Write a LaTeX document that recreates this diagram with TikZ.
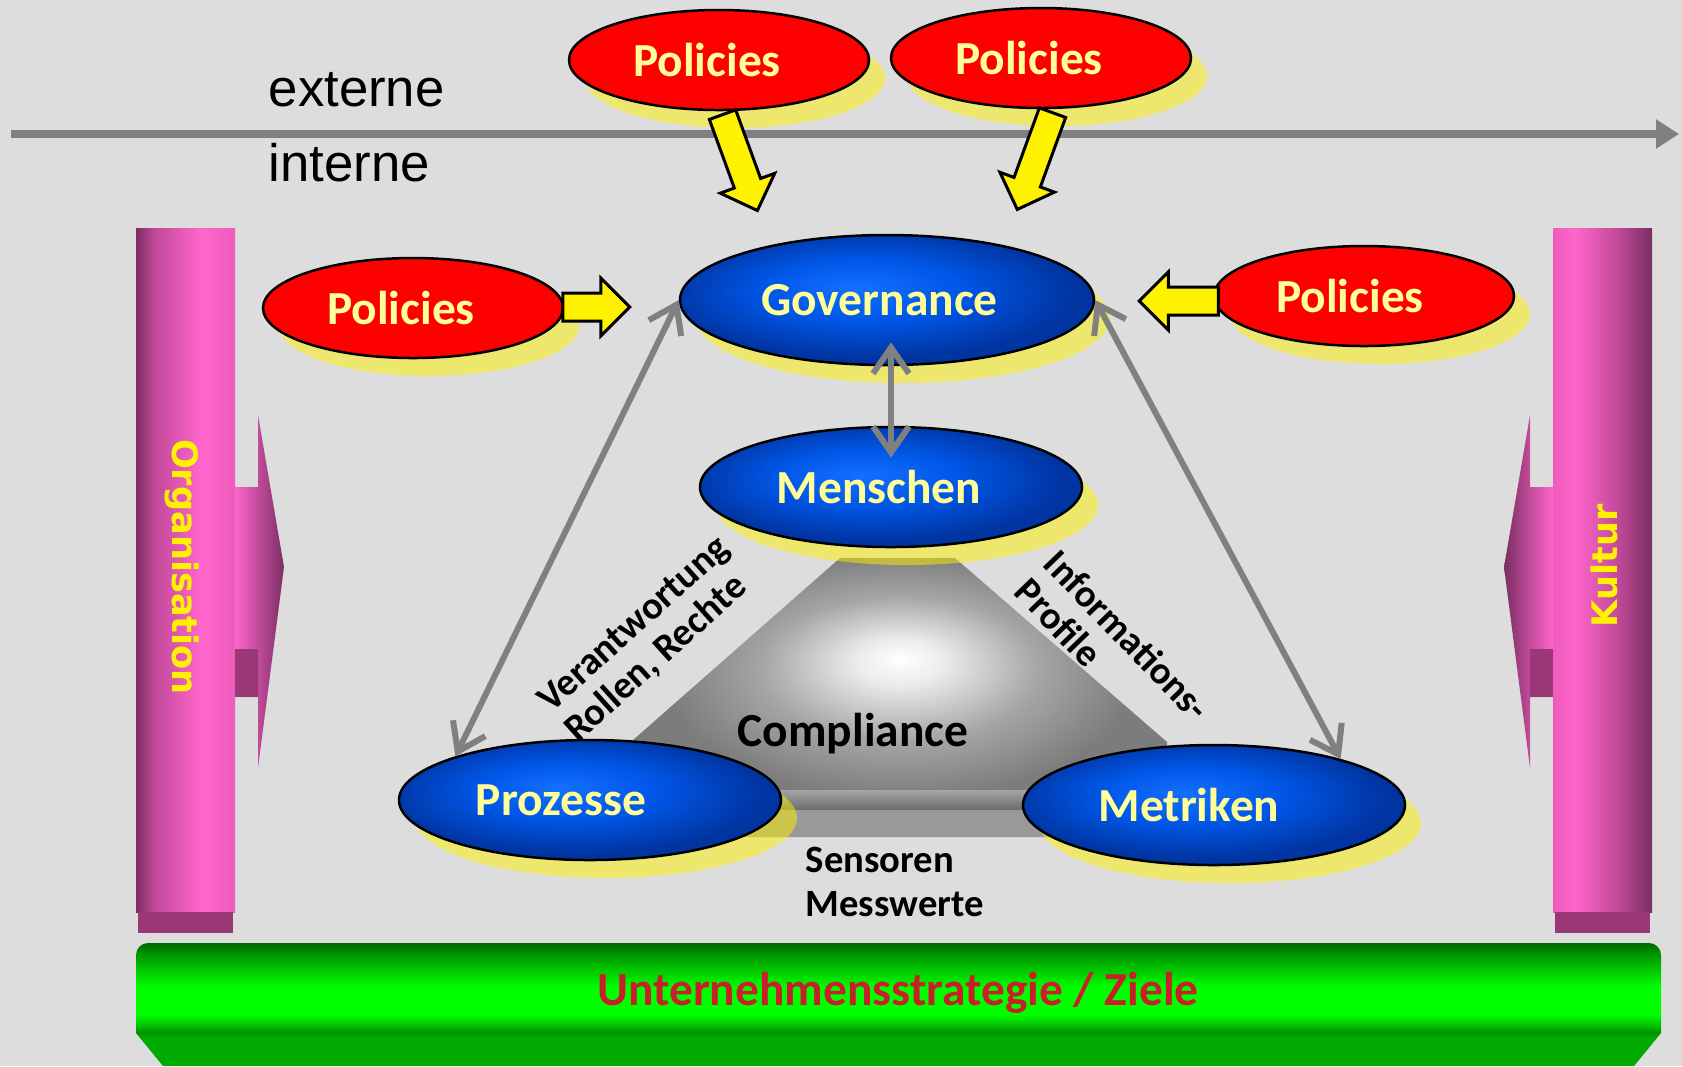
\documentclass[tikz,border=0pt]{standalone}
\usepackage{fontspec}
\setmainfont{Carlito}
\newfontfamily\pilierfont{DejaVu Sans}
\newfontfamily\zonefont{Liberation Sans}
\usetikzlibrary{positioning,shapes.geometric,shapes.arrows,shadows,arrows.meta}

\definecolor{fond}{RGB}{221,221,221}
\definecolor{gris}{RGB}{128,128,128}
\definecolor{jaunepale}{RGB}{255,255,153}
\definecolor{rougefonce}{RGB}{200,32,40}
\definecolor{roseclair}{RGB}{255,102,204}
\definecolor{rosebord}{RGB}{238,92,188}
\definecolor{rosemoyen}{RGB}{192,72,152}
\definecolor{rosefonce}{RGB}{122,46,98}
\definecolor{roseface}{RGB}{153,55,119}
\definecolor{bleuA}{RGB}{20,112,255}
\definecolor{bleuB}{RGB}{0,86,230}
\definecolor{bleuC}{RGB}{0,52,160}
\definecolor{grisA}{RGB}{236,236,236}
\definecolor{grisB}{RGB}{165,165,165}
\definecolor{grisC}{RGB}{124,124,124}
\definecolor{vertA}{RGB}{0,170,0}
\definecolor{vertB}{RGB}{0,145,0}
\definecolor{vertC}{RGB}{0,255,0}
\definecolor{vertD}{RGB}{0,105,0}

\pgfdeclareradialshading{bille}{\pgfpoint{-4bp}{5bp}}{color(0bp)=(bleuA); color(12bp)=(bleuB); color(25bp)=(bleuC); color(50bp)=(bleuC)}
\pgfdeclareradialshading{pyramide}{\pgfpoint{0bp}{7bp}}{color(0bp)=(white); color(4bp)=(grisA); color(13bp)=(grisB); color(22bp)=(grisC); color(50bp)=(grisC)}
\pgfdeclarehorizontalshading{pilierG}{100bp}{color(0bp)=(rosefonce); color(25bp)=(rosefonce); color(34bp)=(rosemoyen); color(58bp)=(roseclair); color(75bp)=(rosebord); color(100bp)=(rosebord)}
\pgfdeclarehorizontalshading{pilierD}{100bp}{color(0bp)=(rosebord); color(25bp)=(rosebord); color(36bp)=(roseclair); color(58bp)=(rosemoyen); color(75bp)=(rosefonce); color(100bp)=(rosefonce)}
\pgfdeclareverticalshading{socle}{100bp}{color(0bp)=(vertA); color(37bp)=(vertA); color(38.5bp)=(vertB); color(46bp)=(vertC); color(57bp)=(vertC); color(71bp)=(vertB); color(75bp)=(vertD); color(100bp)=(vertD)}

\tikzstyle{ovale}=[ellipse,draw=black,line width=0.25mm,inner sep=0pt,text=jaunepale,font=\fontsize{13.5}{16}\selectfont\bfseries,drop shadow={shadow xshift=1.6mm,shadow yshift=-1.8mm,fill=yellow,opacity=0.5}]
\tikzstyle{rouge}=[ovale,fill=red,minimum width=30mm,minimum height=10mm]
\tikzstyle{bleu}=[ovale,shade,shading=bille,minimum width=38.2mm,minimum height=12mm]
\tikzstyle{fleche}=[single arrow,draw=black,line width=0.3mm,fill=yellow,inner sep=1.25mm,single arrow head extend=1.5mm,anchor=tail]
\tikzstyle{lien}=[draw=gris,line width=0.6mm,>={Straight Barb[length=2.6mm,width=3.6mm]},<->]
\tikzstyle{etiquette}=[inner sep=0pt,font=\fontsize{11}{11.5}\selectfont\bfseries,align=left]
\tikzstyle{pilier}=[inner sep=0pt,text=yellow,font=\pilierfont\fontsize{10}{12}\selectfont\bfseries]
\tikzstyle{zone}=[inner sep=0pt,font=\zonefont\fontsize{15}{18}\selectfont]

\begin{document}
\begin{tikzpicture}[x=0.1mm,y=-0.1mm]

\fill[fond] (0,0) rectangle (1682,1066);
\useasboundingbox (0,0) rectangle (1682,1066);

\coordinate (A0) at (11,134);
\coordinate (A1) at (1679,134);
\draw[gris,line width=0.8mm,-{Triangle[length=2.3mm,width=2.8mm]}] (A0) -- (A1);
\node[zone,anchor=west] (T00) at (268,90) {externe};
\node[zone,anchor=west] (T01) at (268,163) {interne};

\shade[shading=pilierG] (136,228) rectangle (235,912);
\fill[roseface] (138,912) rectangle (233,933);
\shade[left color=roseclair,right color=rosefonce] (235,487) -- (258,487) -- (258,415) -- (284,567) -- (258,768) -- (258,697) -- (235,697) -- cycle;
\fill[roseface] (235,649) rectangle (258,697);
\shade[shading=pilierD] (1553,228) rectangle (1652,912);
\fill[roseface] (1555,912) rectangle (1650,933);
\shade[left color=rosefonce,right color=roseclair] (1553,487) -- (1530,487) -- (1530,415) -- (1504,567) -- (1530,768) -- (1530,697) -- (1553,697) -- cycle;
\fill[roseface] (1530,649) rectangle (1553,697);
\node[pilier,rotate=-90] (O00) at (182,567) {Organisation};
\node[pilier,rotate=90] (K00) at (1604,566) {Kultur};

\shade[shading=socle] (136,1033) [rounded corners=1.2mm] -- (136,943) -- (1661,943) [sharp corners] -- (1661,1033) -- (1634,1066) -- (163,1066) -- cycle;
\node[font=\fontsize{13.5}{16}\selectfont\bfseries,text=rougefonce] (S00) at (898,993) {Unternehmensstrategie / Ziele};

\shade[shading=pyramide] (840,558) -- (955,558) -- (1167,742) -- (1167,837) -- (633,837) -- (633,740) -- cycle;
\shade[top color=grisB,bottom color=black!58] (633,790) rectangle (1167,810);
\fill[black!40] (633,810) rectangle (1167,837);

\node[etiquette,rotate=42] (T10) at (648,640) {Verantwortung\\Rollen, Rechte};
\node[etiquette,rotate=-46] (T11) at (1113,649) {Informations-\\Profile};
\node[etiquette,font=\fontsize{11}{12.5}\selectfont\bfseries,anchor=west] (T40) at (805,882) {Sensoren\\Messwerte};
\node[font=\fontsize{13.5}{16}\selectfont\bfseries] (C30) at (853,734) {Compliance};

\node[rouge] (P00) at (719,60) {\hspace*{-2.4mm}Policies};
\node[rouge] (P01) at (1041,58) {\hspace*{-2.4mm}Policies};
\node[rouge] (P10) at (413,308) {\hspace*{-2.4mm}Policies};
\node[rouge] (P12) at (1364,296) {\hspace*{-2.8mm}Policies};
\node[bleu,minimum width=41.4mm,minimum height=13mm] (G11) at (887,300) {\hspace*{-1.5mm}Governance};
\node[bleu] (M20) at (891,487) {\hspace*{-2.4mm}Menschen};
\node[bleu] (P40) at (590,800) {\hspace*{-5.8mm}Prozesse};
\node[bleu] (M41) at (1214,805) {\hspace*{-5mm}Metriken};

\node[fleche,minimum height=10.2mm,rotate=-70] (F00) at ([shift={(3,2)}]P00.south) {};
\node[fleche,minimum height=10.3mm,rotate=-110] (F01) at ([shift={(12,2)}]P01.south) {};
\node[fleche,minimum height=6.7mm] (F10) at ([shift={(-3,-1)}]P10.east) {};
\node[fleche,minimum height=7.9mm,rotate=180] (F12) at ([shift={(7,5)}]P12.west) {};

\draw[lien] (G11.west) -- (P40.162);
\draw[lien] (G11.east) -- (M41.20);
\draw[lien,shorten <=-2.4mm,shorten >=-3.2mm] (G11.south -| M20.north) -- (M20.north);

\end{tikzpicture}
\end{document}
